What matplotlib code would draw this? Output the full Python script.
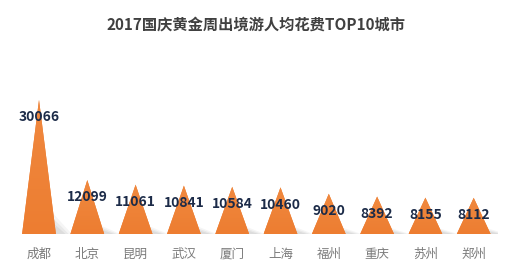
import numpy as np
import matplotlib
matplotlib.use('Agg')
import matplotlib.pyplot as plt
from matplotlib.patches import Polygon

plt.rcParams['font.family'] = ['Noto Sans CJK SC', 'DejaVu Sans']

cities = ['成都', '北京', '昆明', '武汉', '厦门', '上海', '福州', '重庆', '苏州', '郑州']
spend = [30066, 12099, 11061, 10841, 10584, 10460, 9020, 8392, 8155, 8112]
title = '2017国庆黄金周出境游人均花费TOP10城市'

orange = '#ED7D31'
half = 0.35  # half width of each triangle, in category units

fig = plt.figure(figsize=(5.14, 2.71), dpi=100)
ax = fig.add_axes([0.0289, 0.1365, 0.9397, 0.5266])
ax.set_xlim(-0.5, len(cities) - 0.5)
ax.set_ylim(0, 32000)

for i, v in enumerate(spend):
    # soft grey shadow to the right
    hs = v * 0.2
    for k, a in zip([1.0, 0.8, 0.6], [0.08, 0.10, 0.12]):
        sh = Polygon([(i + half * 0.3, 0), (i + half + 0.33 * k, 0),
                      (i + half * 0.5, hs * k)], closed=True,
                     facecolor='#808080', edgecolor='none', alpha=a, zorder=1)
        ax.add_patch(sh)
    tri = Polygon([(i - half, 0), (i + half, 0), (i, v)], closed=True,
                  facecolor=orange, edgecolor='none', zorder=2)
    ax.add_patch(tri)
    # slightly lighter tip
    grad = np.linspace(0, 1, 100).reshape(-1, 1)
    im = ax.imshow(grad, extent=(i - half, i + half, 0, v), origin='lower',
                   cmap=matplotlib.colors.LinearSegmentedColormap.from_list(
                       'g', ['#ED7D31', '#F0893F']),
                   aspect='auto', zorder=3)
    im.set_clip_path(tri)
    ax.annotate(str(v), (i, v), xytext=(0, -12.5), textcoords='offset points',
                ha='center', va='center', fontsize=10, fontweight='bold',
                color='#1C2B48', zorder=5)

ax.set_xticks(range(len(cities)))
ax.set_xticklabels(cities, fontsize=9, color='#7A7A7A')
ax.tick_params(axis='x', length=0, pad=10)
ax.set_yticks([])
for s in ax.spines.values():
    s.set_visible(False)

fig.text(0.499, 0.908, title, ha='center', va='center', fontsize=11,
         fontweight='bold', color='#404040')

fig.savefig('out.png', dpi=100)
